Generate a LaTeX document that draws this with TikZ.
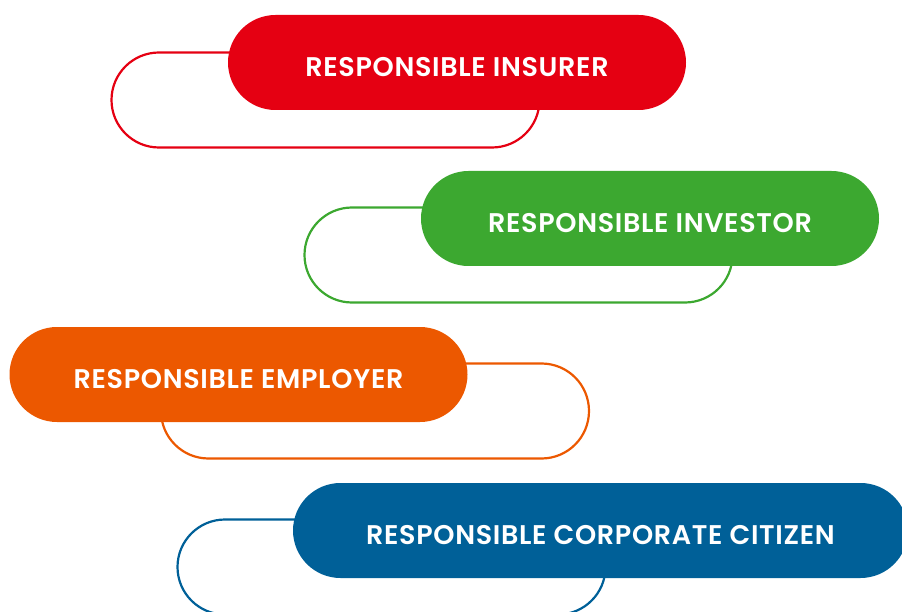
\documentclass[tikz,border=0pt]{standalone}
\usepackage{fontspec}
\setmainfont{Poppins}
\newfontfamily\capfont{Poppins SemiBold}[LetterSpace=2.5]
\usetikzlibrary{shapes.misc}

\definecolor{insred}{RGB}{229,0,18}
\definecolor{invgreen}{RGB}{60,168,48}
\definecolor{emporange}{RGB}{236,88,0}
\definecolor{citblue}{RGB}{0,96,152}

\tikzset{
  band/.style={rounded rectangle, minimum height=95pt, minimum width=458pt,
    inner sep=0pt, fill=#1},
  ring/.style={rounded rectangle, minimum height=95pt, minimum width=428pt,
    inner sep=0pt, draw=#1, line width=2.2pt},
  caption/.style={text=white, inner sep=0pt, font=\fontsize{27}{27}\capfont},
}

\begin{document}
\begin{tikzpicture}[x=1pt,y=-1pt]
\useasboundingbox (0,0) rectangle (902,612);
\clip (0,0) rectangle (902,612);

% outlines sit behind the coloured bands
\node[ring=insred]    (insring) at (325.5,100) {};
\node[ring=invgreen]  (invring) at (518.5,255) {};
\node[ring=emporange] (empring) at (375,411) {};
\node[ring=citblue]   (citring) at (391.5,567) {};

\node[band=insred]    (ins) at (457,62.5) {};
\node[band=invgreen]  (inv) at (650,218.5) {};
\node[band=emporange] (emp) at (238.5,374.5) {};
\node[band=citblue, minimum width=615pt] (cit) at (600.5,530.5) {};

\node[caption] (inslabel) at ([yshift=-5pt]ins.center) {RESPONSIBLE INSURER};
\node[caption] (invlabel) at ([yshift=-5pt]inv.center) {RESPONSIBLE INVESTOR};
\node[caption] (emplabel) at ([yshift=-5pt]emp.center) {RESPONSIBLE EMPLOYER};
\node[caption] (citlabel) at ([yshift=-5pt]cit.center) {RESPONSIBLE CORPORATE CITIZEN};
\end{tikzpicture}
\end{document}
